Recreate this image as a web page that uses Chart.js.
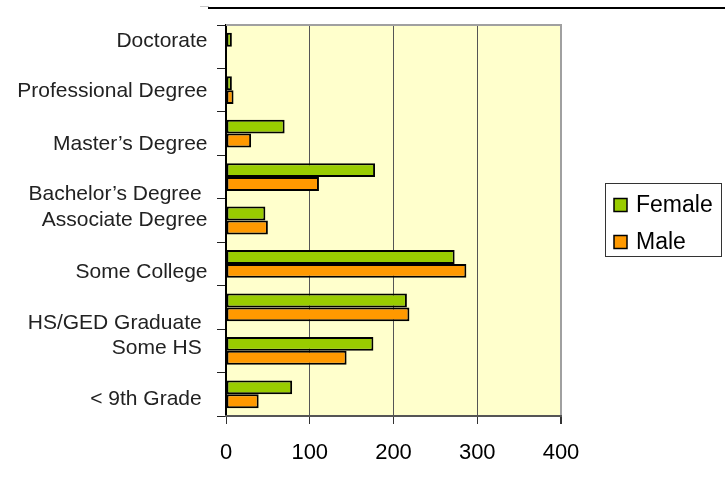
<!DOCTYPE html>
<html>
<head>
<meta charset="utf-8">
<script src="https://cdn.jsdelivr.net/npm/chart.js@4"></script>
<style>
  html, body { margin: 0; padding: 0; background: #fff; }
  #wrap { width: 725px; height: 488px; }
</style>
</head>
<body>
<div id="wrap"><canvas id="c" width="725" height="488"></canvas></div>
<script>
// Education level counts by sex
const categories = [
  'Doctorate',
  'Professional Degree',
  'Master\u2019s Degree',
  'Bachelor\u2019s Degree ',
  'Associate Degree',
  'Some College',
  'HS/GED Graduate ',
  'Some HS ',
  '< 9th Grade '
];
const female = [7, 7, 70, 178, 47, 273, 216, 176, 79];
const male = [null, 9, 30, 111, 50, 287, 219, 144, 39];
const xTicks = [0, 100, 200, 300, 400];

const FONT = '"Liberation Sans", Arial, sans-serif';
const GREEN = '#99CC00';
const ORANGE = '#FF9900';

// vertical nudges for the category captions, in px from the band centre
const labelNudge = [-6, 1.5, 10.5, 17, 0, 8, 15.5, -3, 5];

const decor = {
  id: 'decor',
  beforeDraw(chart) {
    const { ctx, chartArea: a } = chart;
    ctx.save();
    ctx.fillStyle = '#FFFFCC';
    ctx.fillRect(a.left, a.top, a.right - a.left, a.bottom - a.top);
    ctx.restore();
  },
  afterDraw(chart) {
    const { ctx, chartArea: a } = chart;
    const ys = chart.scales.y;
    ctx.save();
    // top frame of the plot
    ctx.strokeStyle = '#a0a0a0';
    ctx.lineWidth = 2;
    ctx.beginPath();
    ctx.moveTo(a.left, a.top);
    ctx.lineTo(a.right + 1, a.top);
    ctx.stroke();

    // heading rule
    ctx.strokeStyle = '#c8c8c8';
    ctx.lineWidth = 1;
    ctx.beginPath();
    ctx.moveTo(200, 6.5);
    ctx.lineTo(209, 6.5);
    ctx.stroke();
    ctx.strokeStyle = '#000';
    ctx.lineWidth = 2;
    ctx.beginPath();
    ctx.moveTo(208, 8);
    ctx.lineTo(725, 8);
    ctx.stroke();

    // category captions
    ctx.fillStyle = '#222';
    ctx.font = '21px ' + FONT;
    ctx.textAlign = 'right';
    ctx.textBaseline = 'middle';
    chart.data.labels.forEach((lab, i) => {
      const y = ys.getPixelForValue(i) + labelNudge[i];
      ctx.fillText(lab, 207.5, y);
    });

    // legend
    const lx = 605.5, ly = 183.5, lw = 116, lh = 73;
    ctx.strokeStyle = '#333';
    ctx.lineWidth = 1;
    ctx.strokeRect(lx, ly, lw, lh);
    ctx.font = '23px ' + FONT;
    ctx.textAlign = 'left';
    ctx.fillStyle = '#000';
    const rows = [204.5, 241.5];
    chart.data.datasets.forEach((ds, i) => {
      const cy = rows[i];
      ctx.fillStyle = ds.backgroundColor;
      ctx.fillRect(614, cy - 6, 13, 13);
      ctx.strokeStyle = '#000';
      ctx.lineWidth = 1.5;
      ctx.strokeRect(614, cy - 6, 13, 13);
      ctx.fillStyle = '#000';
      ctx.fillText(ds.label, 636, cy + 1);
    });
    ctx.restore();
  }
};

new Chart(document.getElementById('c'), {
  type: 'bar',
  data: {
    labels: categories,
    datasets: [
      { label: 'Female', data: female, backgroundColor: GREEN, borderColor: '#000',
        borderWidth: 2, borderSkipped: false, categoryPercentage: 0.64, barPercentage: 1.0 },
      { label: 'Male', data: male, backgroundColor: ORANGE, borderColor: '#000',
        borderWidth: 2, borderSkipped: false, categoryPercentage: 0.64, barPercentage: 1.0 }
    ]
  },
  options: {
    indexAxis: 'y',
    responsive: false,
    animation: false,
    devicePixelRatio: 1,
    layout: { padding: { top: 25, right: 164, left: 0, bottom: 0 } },
    plugins: { legend: { display: false }, tooltip: { enabled: false } },
    scales: {
      y: {
        offset: true,
        grid: { offset: true, drawOnChartArea: false, tickLength: 9, color: '#222', tickColor: '#222' },
        border: { color: '#000', width: 2 },
        ticks: { color: 'transparent', font: { size: 21, family: FONT } },
        afterFit(scale) { scale.width = 226; }
      },
      x: {
        min: 0,
        max: 400,
        afterBuildTicks(scale) { scale.ticks = xTicks.map(v => ({ value: v })); },
        ticks: { color: '#000', padding: 16, font: { size: 22, family: FONT } },
        grid: {
          tickLength: 8,
          tickColor: '#333',
          color: ctx => (ctx.tick && ctx.tick.value === 400 ? '#a0a0a0' : '#555'),
          lineWidth: ctx => (ctx.tick && ctx.tick.value === 400 ? 2 : 1)
        },
        border: { color: '#555', width: 2 },
        afterFit(scale) { scale.height = 72; }
      }
    }
  },
  plugins: [decor]
});
</script>
</body>
</html>
